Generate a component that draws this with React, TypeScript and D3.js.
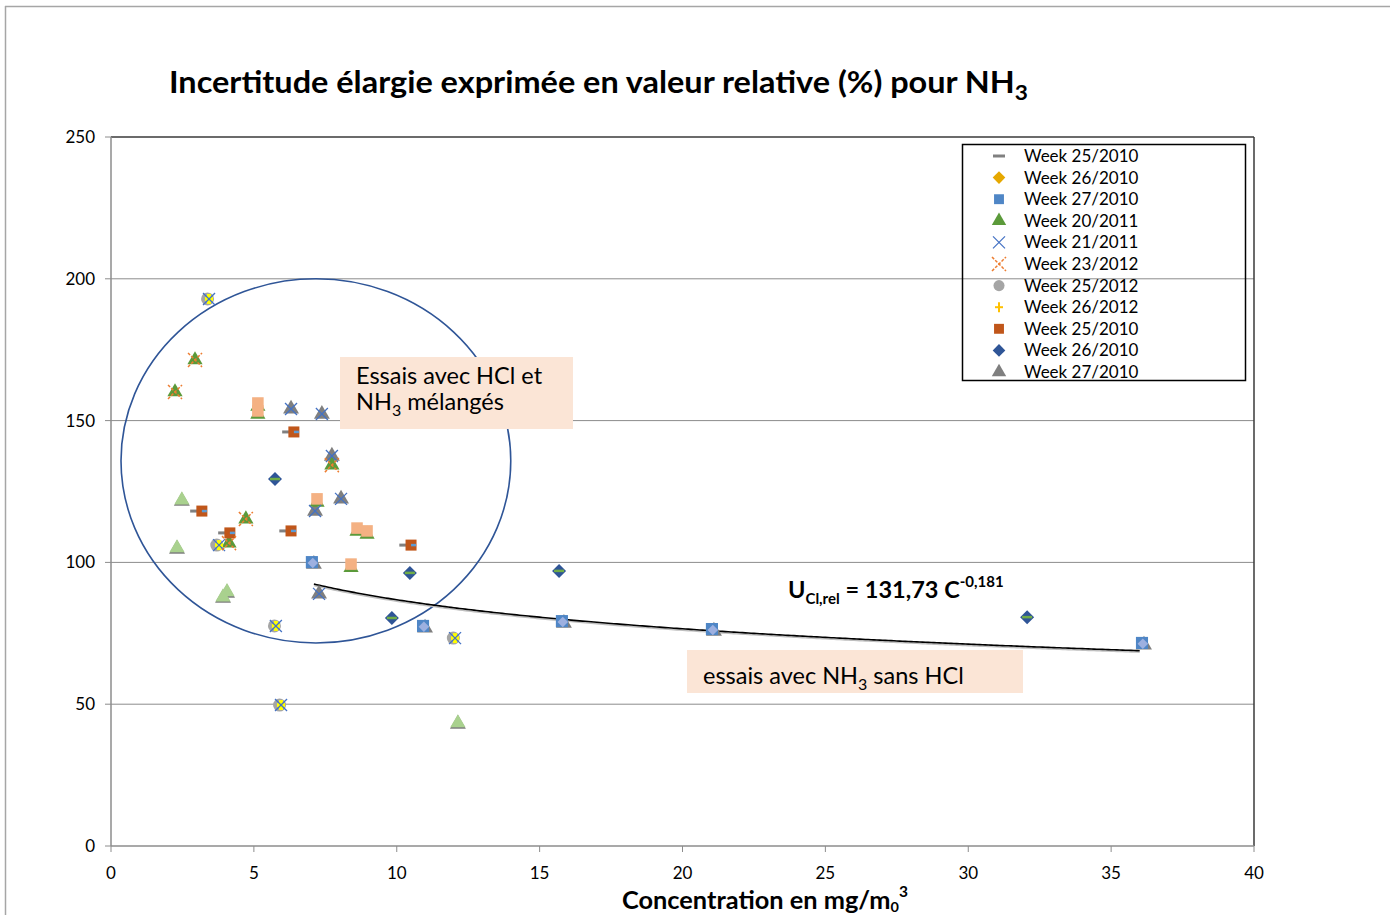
import React from "react";
import * as d3 from "d3";

// ---- data (concentration mg/m0^3, relative uncertainty %) ----
const week25_2010_dash: [number, number][] = [[2.98, 118.1], [3.96, 110.4], [6.2, 146.0], [6.1, 111.1], [10.3, 106.1]];
const week26_2010_gold: [number, number][] = [];
const week27_2010_square: [number, number][] = [[7.03, 100.1], [10.92, 77.6], [15.78, 79.3], [21.03, 76.5], [36.08, 71.6]];
const week20_2011_triangle: [number, number][] = [[2.94, 171.4], [2.24, 160.1], [4.72, 115.3], [4.13, 106.8], [7.73, 134.3], [5.14, 155.0], [5.14, 152.2], [7.21, 121.2], [8.61, 110.9], [8.96, 109.9], [8.4, 98.2]];
const week21_2011_x: [number, number][] = [[6.3, 154.1], [7.38, 152.3], [7.73, 137.5], [8.05, 122.4], [7.14, 118.1], [7.28, 88.9], [3.43, 192.9], [3.78, 106.1], [5.77, 77.6], [5.95, 49.7], [12.04, 73.3]];
const week23_2012_asterisk: [number, number][] = [[2.94, 171.4], [2.24, 160.1], [4.72, 115.3], [4.13, 106.8], [7.73, 134.3]];
const week25_2012_circle: [number, number][] = [[3.38, 192.9], [3.7, 106.1], [5.72, 77.6], [5.9, 49.7], [11.98, 73.3]];
const week26_2012_plus: [number, number][] = [[3.43, 192.9], [3.78, 106.1], [5.77, 77.6], [5.95, 49.7], [12.04, 73.3]];
const week25_2010_square: [number, number][] = [[3.18, 118.1], [4.16, 110.4], [6.4, 146.0], [6.3, 111.1], [10.5, 106.1]];
const week26_2010_diamond: [number, number][] = [[5.74, 129.4], [10.46, 96.3], [15.68, 97.0], [9.83, 80.4], [32.06, 80.7]];
const week27_2010_triangle: [number, number][] = [[6.3, 154.1], [7.38, 152.3], [7.73, 137.5], [8.05, 122.4], [7.14, 118.1], [7.28, 88.9], [7.1, 99.4], [10.99, 76.9], [15.85, 78.6], [21.1, 75.8], [36.15, 70.9], [2.48, 121.6], [2.31, 104.7], [4.06, 89.2], [3.92, 87.4], [12.14, 43.0]];
// faded (overlapping) renderings of series
const week25_2010_faded: [number, number][] = [[5.14, 156.2], [5.14, 153.4], [7.21, 122.4], [8.61, 112.1], [8.96, 111.1], [8.4, 99.4]];
const week20_2011_faded: [number, number][] = [[2.48, 122.0], [2.31, 105.1], [4.06, 89.6], [3.92, 87.8], [12.14, 43.4]];
const week26_2010_faded: [number, number][] = [[7.06, 99.8], [10.95, 77.3], [15.81, 79.0], [21.06, 76.2], [36.11, 71.3]];

const legendLabels = ["Week 25/2010", "Week 26/2010", "Week 27/2010", "Week 20/2011", "Week 21/2011", "Week 23/2012", "Week 25/2012", "Week 26/2012", "Week 25/2010", "Week 26/2010", "Week 27/2010"];
const xTicks = [0, 5, 10, 15, 20, 25, 30, 35, 40];
const yTicks = [0, 50, 100, 150, 200, 250];
const fitA = 131.73;
const fitB = -0.181;
const ellipse = { cx: 7.17, cy: 135.8, rx: 6.82, ry: 64.2 };

const FONT = "Lato, 'Open Sans', sans-serif";
const C = {
  dash: "#808080", gold: "#E6A800", blue: "#4F86C6", green: "#5B9A3A", xblue: "#4472C4",
  orange: "#ED7D31", gray: "#A5A5A5", yellow: "#FFC000", brown: "#C0561A", navy: "#2F5597", tri: "#7F7F7F",
};

type Kind = "dash" | "diamond" | "square" | "triangle" | "x" | "asterisk" | "circle" | "plus";

function Marker({ kind, x, y, color, s = 1, extra }: { kind: Kind; x: number; y: number; color: string; s?: number; extra?: string }) {
  const t = `translate(${x},${y})`;
  switch (kind) {
    case "dash":
      return <line transform={t} x1={-6} x2={6} y1={0} y2={0} stroke={color} strokeWidth={3} />;
    case "diamond": {
      const r = 7 * s;
      return (
        <g transform={t}>
          <path d={`M0,${-r}L${r},0L0,${r}L${-r},0Z`} fill={color} />
          {extra && <line x1={-5} x2={5} y1={0} y2={0} stroke={extra} strokeWidth={2.5} />}
        </g>
      );
    }
    case "square":
      return (
        <g transform={t}>
          <rect x={-5.5 * s} y={-5.5 * s} width={11 * s} height={11 * s} fill={color} />
          {extra && <line x1={0} x2={5} y1={0} y2={0} stroke={extra} strokeWidth={2.5} />}
        </g>
      );
    case "triangle":
      return <path transform={t} d={d3.symbol(d3.symbolTriangle, 100 * s)()!} fill={color} />;
    case "x":
      return (
        <g transform={t} stroke={color} strokeWidth={1.3}>
          <line x1={-6} y1={-6} x2={6} y2={6} />
          <line x1={-6} y1={6} x2={6} y2={-6} />
        </g>
      );
    case "asterisk":
      return (
        <g transform={t} stroke={color} strokeWidth={1.5} strokeDasharray="3 1.5">
          <line x1={-7} y1={-7} x2={7} y2={7} />
          <line x1={-7} y1={7} x2={7} y2={-7} />
        </g>
      );
    case "circle":
      return <circle transform={t} r={6.5 * s} fill={color} />;
    case "plus":
      return (
        <g transform={t} stroke={color} strokeWidth={4 * s}>
          <line x1={-4} x2={4} y1={0} y2={0} />
          <line x1={0} x2={0} y1={-5} y2={5} />
        </g>
      );
  }
}

const legendMarkers: { kind: Kind; color: string; s: number }[] = [
  { kind: "dash", color: C.dash, s: 0.9 },
  { kind: "diamond", color: C.gold, s: 0.9 },
  { kind: "square", color: C.blue, s: 0.9 },
  { kind: "triangle", color: C.green, s: 0.9 },
  { kind: "x", color: C.xblue, s: 0.9 },
  { kind: "asterisk", color: C.orange, s: 0.9 },
  { kind: "circle", color: C.gray, s: 0.85 },
  { kind: "plus", color: C.yellow, s: 0.5 },
  { kind: "square", color: C.brown, s: 0.9 },
  { kind: "diamond", color: C.navy, s: 0.9 },
  { kind: "triangle", color: C.tri, s: 0.9 },
];

export default function App() {
  const W = 1390, H = 915;
  const L = 111, R = 1254, T = 137, B = 846;
  const x = d3.scaleLinear().domain([0, 40]).range([L, R]);
  const y = d3.scaleLinear().domain([0, 250]).range([B, T]);

  const fitXs = d3.range(7.1, 36.01, 0.1);
  const fitPath = d3.line<number>().x((d) => x(d)).y((d) => y(fitA * Math.pow(d, fitB)))(fitXs)!;

  const layers: { data: [number, number][]; kind: Kind; color: string; s?: number; extra?: string }[] = [
    { data: week27_2010_triangle, kind: "triangle", color: C.tri, s: 1.1 },
    { data: week26_2010_gold, kind: "diamond", color: C.gold },
    { data: week27_2010_square, kind: "square", color: C.blue, s: 1.1 },
    { data: week26_2010_faded, kind: "diamond", color: "#9DB0E0", s: 0.75 },
    { data: week20_2011_triangle, kind: "triangle", color: C.green, s: 1.0 },
    { data: week25_2010_dash, kind: "dash", color: C.dash },
    { data: week25_2010_square, kind: "square", color: C.brown, extra: "#5B9BD5" },
    { data: week25_2010_faded, kind: "square", color: "#F4B183", s: 1.05 },
    { data: week20_2011_faded, kind: "triangle", color: "#A9D18E", s: 1.0 },
    { data: week26_2010_diamond, kind: "diamond", color: C.navy, extra: "#70AD47" },
    { data: week25_2012_circle, kind: "circle", color: C.gray },
    { data: week26_2012_plus, kind: "plus", color: "#FFFF00" },
    { data: week21_2011_x, kind: "x", color: C.xblue },
    { data: week23_2012_asterisk, kind: "asterisk", color: C.orange },
  ];

  return (
    <svg width={W} height={H} style={{ position: "absolute", left: 0, top: 0, background: "#fff" }} fontFamily={FONT}>
      <rect x={0} y={0} width={W} height={H} fill="#fff" />
      {/* outer frame */}
      <line x1={5.5} y1={6} x2={5.5} y2={H} stroke="#A6A6A6" strokeWidth={1.5} />
      <line x1={5} y1={6.5} x2={W} y2={6.5} stroke="#A6A6A6" strokeWidth={1.5} />

      {/* title */}
      <text x={169} y={93} fontSize={30} fontWeight={700} fill="#000" textLength={859} lengthAdjust="spacingAndGlyphs">
        Incertitude élargie exprimée en valeur relative (%) pour NH
        <tspan dy={7} fontSize={21}>3</tspan>
      </text>

      {/* gridlines */}
      {yTicks.filter((v) => v > 0 && v < 250).map((v) => (
        <line key={v} x1={L} x2={R} y1={y(v)} y2={y(v)} stroke="#8C8C8C" strokeWidth={1} />
      ))}
      {/* plot frame */}
      <line x1={L} x2={R} y1={T} y2={T} stroke="#3A3A3A" strokeWidth={1.5} />
      <line x1={R} x2={R} y1={T} y2={B} stroke="#3A3A3A" strokeWidth={1.5} />
      <line x1={L} x2={L} y1={T} y2={B} stroke="#8C8C8C" strokeWidth={1.5} />
      <line x1={L} x2={R} y1={B} y2={B} stroke="#8C8C8C" strokeWidth={1.5} />

      {/* ticks */}
      {yTicks.map((v) => (
        <g key={v}>
          <line x1={L - 6} x2={L} y1={y(v)} y2={y(v)} stroke="#8C8C8C" />
          <text x={95} y={y(v) + 6} fontSize={17} textAnchor="end" fill="#000">{v}</text>
        </g>
      ))}
      {xTicks.map((v) => (
        <g key={v}>
          <line x1={x(v)} x2={x(v)} y1={B} y2={B + 6} stroke="#8C8C8C" />
          <text x={x(v)} y={B + 33} fontSize={17} textAnchor="middle" fill="#000">{v}</text>
        </g>
      ))}

      {/* x-axis title */}
      <text x={622} y={909} fontSize={24.5} fontWeight={700} fill="#000" textLength={286} lengthAdjust="spacingAndGlyphs">
        Concentration en mg/m
        <tspan dy={3} fontSize={14}>0</tspan>
        <tspan dy={-15} fontSize={15}>3</tspan>
      </text>

      {/* ellipse */}
      <ellipse cx={x(ellipse.cx)} cy={y(ellipse.cy)} rx={x(ellipse.rx) - x(0)} ry={y(0) - y(ellipse.ry)} fill="none" stroke="#2F5597" strokeWidth={1.6} />

      {/* fit curve */}
      <path d={fitPath} fill="none" stroke="#BFBFBF" strokeWidth={1.5} transform="translate(0,1.5)" />
      <path d={fitPath} fill="none" stroke="#000" strokeWidth={1.6} />

      {/* markers */}
      {layers.map((layer, li) => (
        <g key={li}>
          {layer.data.map(([cx, cy], i) => (
            <Marker key={i} kind={layer.kind} x={x(cx)} y={y(cy)} color={layer.color} s={layer.s} extra={layer.extra} />
          ))}
        </g>
      ))}

      {/* annotation boxes */}
      <rect x={340} y={357} width={233} height={72} fill="#FBE5D6" />
      <text x={356} y={384} fontSize={23.5} fill="#000">Essais avec HCl et</text>
      <text x={356} y={410} fontSize={23.5} fill="#000">
        NH<tspan dy={6} fontSize={16}>3</tspan><tspan dy={-6}> mélangés</tspan>
      </text>

      <rect x={687} y={650} width={336} height={43} fill="#FBE5D6" />
      <text x={703} y={684} fontSize={23.5} fill="#000">
        essais avec NH<tspan dy={6} fontSize={16}>3</tspan><tspan dy={-6}> sans HCl</tspan>
      </text>

      {/* equation */}
      <text x={788} y={598} fontSize={23.5} fontWeight={700} fill="#000">
        U<tspan dy={6} fontSize={15}>Cl,rel</tspan>
        <tspan dy={-6}> = 131,73 C</tspan>
        <tspan dy={-11} fontSize={15}>-0,181</tspan>
      </text>

      {/* legend */}
      <rect x={962.5} y={144.5} width={283} height={236} fill="none" stroke="#000" strokeWidth={1.5} />
      {legendLabels.map((lab, i) => {
        const ly = 156 + i * 21.6;
        const m = legendMarkers[i];
        return (
          <g key={i}>
            <Marker kind={m.kind} x={999} y={ly} color={m.color} s={m.s} />
            <text x={1024} y={ly + 6} fontSize={17} fill="#000">{lab}</text>
          </g>
        );
      })}
    </svg>
  );
}
